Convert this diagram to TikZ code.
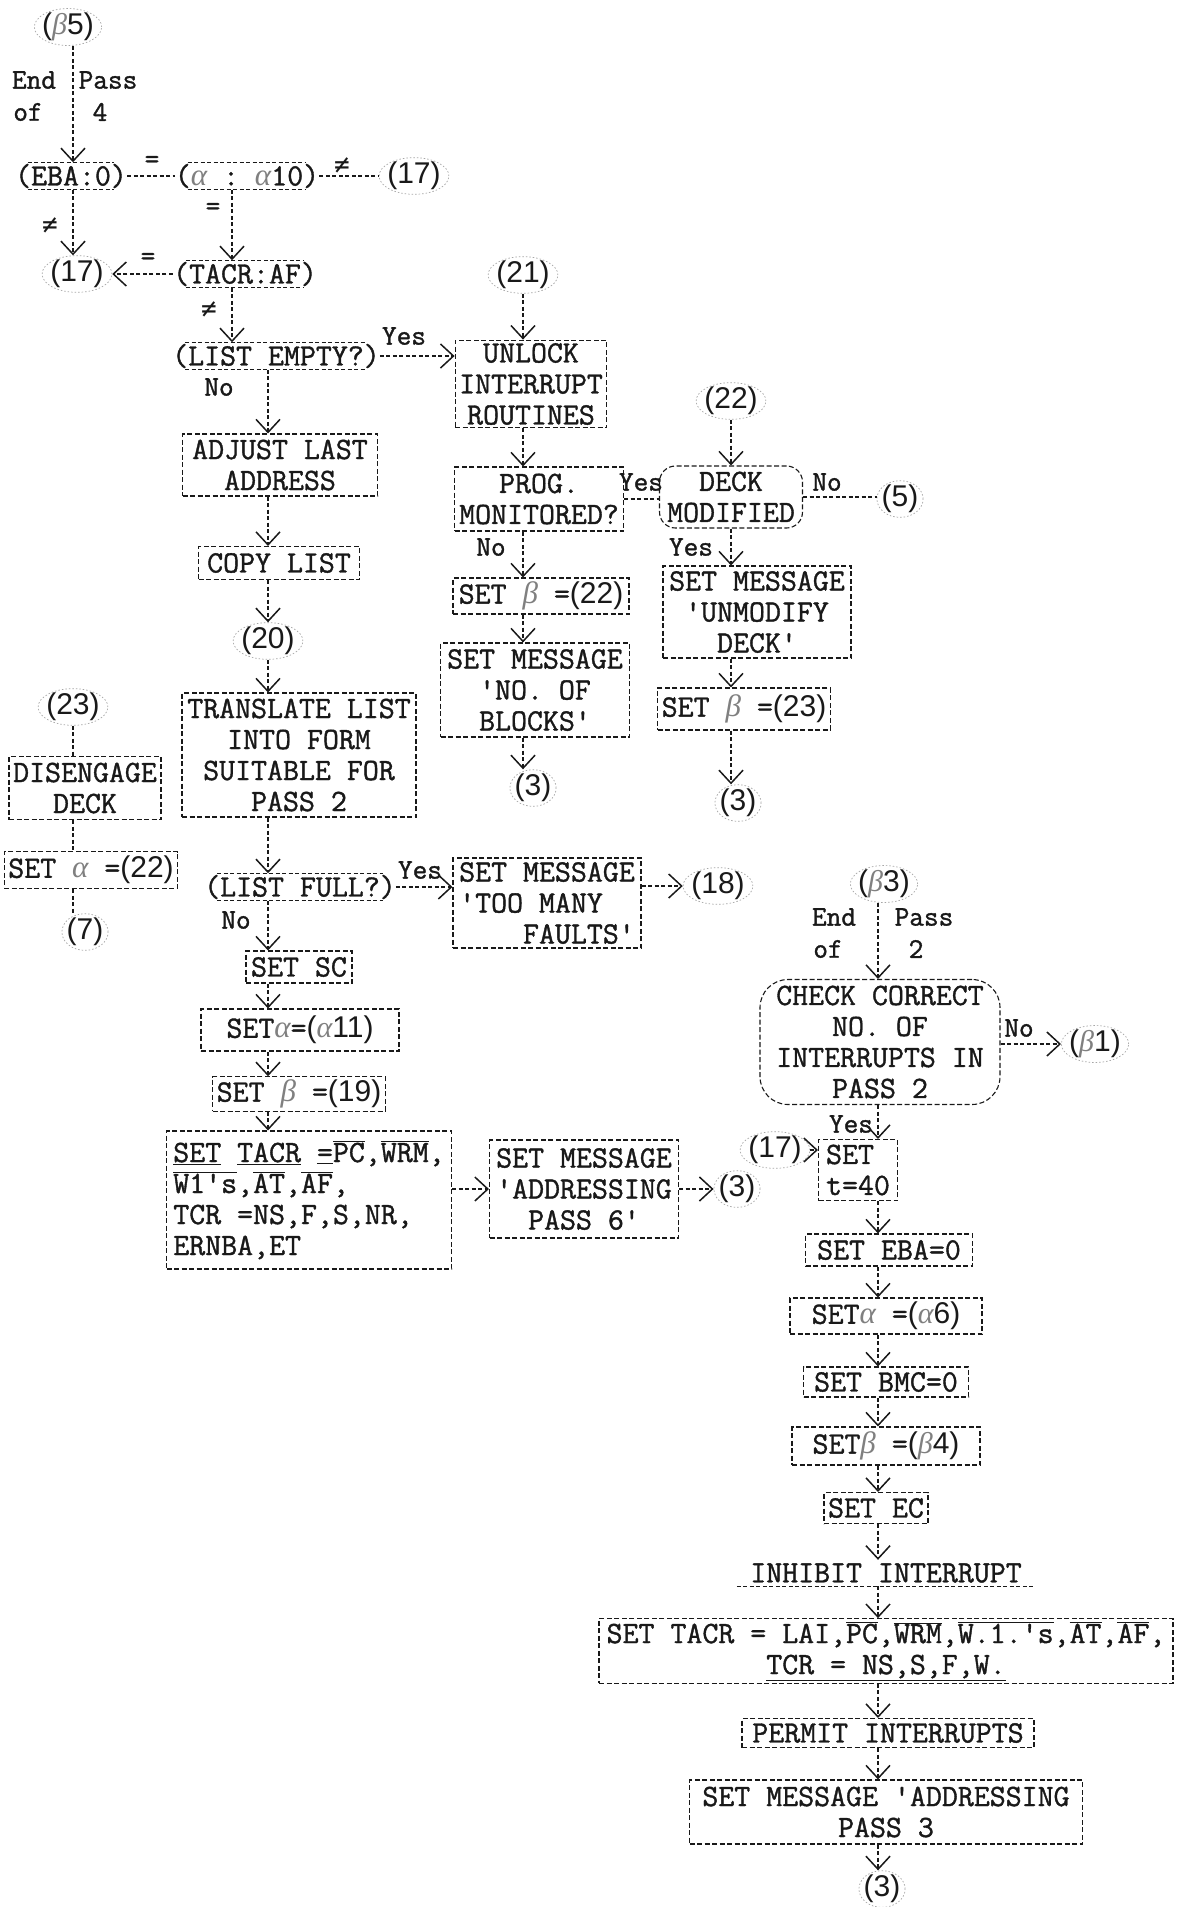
\documentclass[tikz,border=0pt]{standalone}
\usepackage{fontspec}
\setmainfont{Liberation Serif}
\newfontfamily\twf{Latin Modern Mono}[FakeBold=1.2]
\newfontfamily\numf{Liberation Sans}
\newfontfamily\handf{Liberation Serif}
\newfontfamily\symf{DejaVu Sans Mono}
\usetikzlibrary{arrows.meta,shapes.geometric}
\definecolor{ink}{gray}{0.1}
\newcommand\tw{\fontsize{31}{31}\selectfont\twf}
\newcommand\tws{\fontsize{28.5}{31}\selectfont\twf}
\newcommand\ga{{\color{black!50}\handf\itshape α}}
\newcommand\gb{{\color{black!50}\handf\itshape β}}
\newcommand\cnum[1]{{\numf\fontsize{30}{31}\selectfont(#1)}}
\newcommand\ovl[1]{\ensuremath{\overline{\mbox{#1}}}}
\begin{document}
\begin{tikzpicture}[x=1pt,y=-1pt,
  every node/.style={text=ink},
  conn/.style={draw=ink, line width=1.1pt, dash pattern=on 4pt off 2.5pt},
  arr/.style={conn, -{Straight Barb[length=13pt,width=24pt,line width=1.5pt]}},
  box/.style={draw=ink, line width=1.1pt, dash pattern=on 5pt off 2.5pt, font=\tw, align=center, inner xsep=4pt, inner ysep=3pt},
  rbox/.style={box, rounded corners=16pt},
  dec/.style={font=\tw, inner xsep=0pt, inner ysep=1.5pt},
  cn/.style={font={\numf\fontsize{30}{31}\selectfont}, ellipse, draw=black!35, line width=0.7pt, dash pattern=on 1.5pt off 2pt, inner xsep=-2pt, inner ysep=-1pt},
  lbl/.style={font=\tws, inner sep=0pt},
  sym/.style={font={\symf\fontsize{26}{30}\selectfont}, inner sep=0pt},
]
\fill[white] (0,0) rectangle (1186,1907);
\useasboundingbox (0,0) rectangle (1186,1907);
\coordinate (xA) at (73,0);
\coordinate (xB) at (232,0);
\coordinate (xC) at (268,0);
\coordinate (xD) at (523,0);
\coordinate (xE) at (731,0);
\coordinate (xF) at (878,0);

% ---------- top ----------
\node[cn] (b5) at (68,27) {(\gb5)};
\node[lbl] (endA) at (34,80) {End};
\node[lbl] (passA) at (108,80) {Pass};
\node[lbl] (ofA) at (28,112) {of};
\node[lbl] (fourA) at (100,112) {4};
\node[dec] (eba) at (71,176) {(EBA:0)};
\node[dec] (a10) at (247,176) {(\ga~:~\ga10)};
\node[cn] (c17a) at (414,176) {(17)};
\node[lbl] (eqA) at (152,162) {=};
\node[sym] (neA) at (342,166) {≠};
\node[sym] (neB) at (50,226) {≠};
\node[cn] (c17b) at (77,274) {(17)};
\node[lbl] (eqB) at (213,209) {=};
\node[dec] (tacr) at (245,274) {(TACR:AF)};
\node[lbl] (eqC) at (148,259) {=};
\node[sym] (neC) at (209,310) {≠};
\node[dec] (lempty) at (276,356) {(LIST EMPTY?)};
\node[lbl] (yesA) at (404,336) {Yes};
\node[lbl] (noA) at (219,387) {No};

% ---------- middle-left column ----------
\node[box, minimum width=195, minimum height=62] (adjust) at (280,465) {ADJUST LAST\\ADDRESS};
\node[box, minimum width=161, minimum height=33] (copy) at (279,563) {COPY LIST};
\node[cn] (c20) at (268,641) {(20)};
\node[box, minimum width=234, minimum height=124] (transl) at (299,755) {TRANSLATE LIST\\INTO FORM\\SUITABLE FOR\\PASS 2};

% ---------- unlock column ----------
\node[cn] (c21) at (523,275) {(21)};
\node[box, minimum width=150, minimum height=87] (unlock) at (531,384) {UNLOCK\\INTERRUPT\\ROUTINES};
\node[box, minimum width=169, minimum height=64] (prog) at (539,499) {PROG.\\MONITORED?};
\node[lbl] (yesB) at (641,482) {Yes};
\node[lbl] (noB) at (491,547) {No};
\node[box, minimum width=176, minimum height=36] (setb22) at (541,596) {SET \gb~=\cnum{22}};
\node[box, minimum width=189, minimum height=94] (msgblk) at (535,690) {SET MESSAGE\\'NO. OF\\BLOCKS'};
\node[cn] (c3a) at (533,788) {(3)};

% ---------- deck column ----------
\node[cn] (c22) at (731,401) {(22)};
\node[rbox, minimum width=143, minimum height=62] (deck) at (731,497) {DECK\\MODIFIED};
\node[lbl] (noC) at (827,482) {No};
\node[cn] (c5) at (900,499) {(5)};
\node[lbl] (yesC) at (691,547) {Yes};
\node[box, minimum width=188, minimum height=92] (unmod) at (757,612) {SET MESSAGE\\'UNMODIFY\\DECK'};
\node[box, minimum width=171, minimum height=42] (setb23) at (744,709) {SET \gb~=\cnum{23}};
\node[cn] (c3b) at (738,803) {(3)};

% ---------- far left ----------
\node[cn] (c23) at (73,707) {(23)};
\node[box, minimum width=152, minimum height=63] (diseng) at (85,788) {DISENGAGE\\DECK};
\node[box, minimum width=163, minimum height=37] (seta22) at (91,870) {SET \ga~=\cnum{22}};
\node[cn] (c7) at (85,932) {(7)};

% ---------- lower middle ----------
\node[dec] (lfull) at (300,887) {(LIST FULL?)};
\node[lbl] (yesD) at (420,870) {Yes};
\node[lbl] (noD) at (236,920) {No};
\node[box, align=left, minimum width=188, minimum height=90] (toomany) at (547,903) {SET MESSAGE\\'TOO MANY\\~~~~FAULTS'};
\node[cn] (c18) at (718,886) {(18)};
\node[box, minimum width=106, minimum height=32] (setsc) at (299,967) {SET SC};
\node[box, minimum width=198, minimum height=42] (seta11) at (300,1030) {SET\ga=\cnum{\ga11}};
\node[box, minimum width=162, minimum height=32] (setb19) at (299,1094) {SET \gb~=\cnum{19}};
\node[box, align=left, minimum width=285, minimum height=138] (settacr) at (309,1200)
  {\underline{SET}~\underline{TACR}~\underline{=}\ovl{PC},\ovl{WRM},\\\ovl{W1's},\ovl{AT},\ovl{AF},\\TCR~=NS,F,S,NR,\\ERNBA,ET};
\node[box, minimum width=189, minimum height=98] (addr6) at (584,1189) {SET MESSAGE\\'ADDRESSING\\PASS 6'};
\node[cn] (c3c) at (737,1189) {(3)};

% ---------- right column ----------
\node[cn] (b3) at (884,884) {(\gb3)};
\node[lbl] (endB) at (834,917) {End};
\node[lbl] (ofB) at (828,949) {of};
\node[lbl] (passB) at (924,917) {Pass};
\node[lbl] (twoB) at (916,949) {2};
\node[rbox, rounded corners=28pt, minimum width=240, minimum height=125] (check) at (880,1042) {CHECK CORRECT\\NO. OF\\INTERRUPTS IN\\PASS 2};
\node[lbl] (noE) at (1019,1028) {No};
\node[cn] (b1) at (1095,1044) {(\gb1)};
\node[lbl] (yesE) at (851,1124) {Yes};
\node[cn] (c17c) at (775,1150) {(17)};
\node[box, align=left, minimum width=79, minimum height=61] (sett40) at (858,1170) {SET\\t=40};
\node[box, minimum width=167, minimum height=32] (seteba) at (889,1250) {SET EBA=0};
\node[box, minimum width=192, minimum height=36] (seta6) at (886,1316) {SET\ga~=\cnum{\ga6}};
\node[box, minimum width=165, minimum height=30] (setbmc) at (886,1382) {SET BMC=0};
\node[box, minimum width=188, minimum height=38] (setb4) at (886,1446) {SET\gb~=\cnum{\gb4}};
\node[box, minimum width=104, minimum height=31] (setec) at (876,1508) {SET EC};
\node[font=\tw, minimum width=298, minimum height=26, inner sep=0pt] (inhibit) at (886,1573) {INHIBIT INTERRUPT};
\node[box, minimum width=574, minimum height=64] (settacr2) at (886,1651)
  {SET TACR = LAI,\ovl{PC},\ovl{WRM},\ovl{W.1.'s},\ovl{AT},\ovl{AF},\\\underline{TCR = NS,S,F,W.}};
\node[box, minimum width=292, minimum height=29] (permit) at (888,1733) {PERMIT INTERRUPTS};
\node[box, minimum width=393, minimum height=64] (addr3) at (886,1812) {SET MESSAGE 'ADDRESSING\\PASS 3};
\node[cn] (c3d) at (882,1889) {(3)};

% decision outlines (dashed top and bottom between the parentheses)
\foreach \n in {eba,a10,tacr,lempty,lfull}{
  \draw[conn] ([xshift=13pt]\n.north west) -- ([xshift=-13pt]\n.north east)
              ([xshift=13pt]\n.south west) -- ([xshift=-13pt]\n.south east);
}
\draw[conn] (inhibit.south west) -- (inhibit.south east);

% ---------- connectors ----------
\draw[arr] (b5.south -| xA) -- (eba.north -| xA);
\draw[conn] (eba.east) -- (a10.west);
\draw[conn] (a10.east) -- (c17a.west);
\draw[arr] (eba.south -| xA) -- (c17b.north -| xA);
\draw[arr] (a10.south -| xB) -- (tacr.north -| xB);
\draw[arr] (tacr.west) -- (c17b.east);
\draw[arr] (tacr.south -| xB) -- (lempty.north -| xB);
\draw[arr] (lempty.east) -- (lempty.east -| unlock.west);
\draw[arr] (lempty.south -| xC) -- (adjust.north -| xC);
\draw[arr] (adjust.south -| xC) -- (copy.north -| xC);
\draw[arr] (copy.south -| xC) -- (c20.north -| xC);
\draw[arr] (c20.south -| xC) -- (transl.north -| xC);

\draw[arr] (c21.south -| xD) -- (unlock.north -| xD);
\draw[arr] (unlock.south -| xD) -- (prog.north -| xD);
\draw[conn] (prog.east) -- (prog.east -| deck.west);
\draw[arr] (prog.south -| xD) -- (setb22.north -| xD);
\draw[arr] (setb22.south -| xD) -- (msgblk.north -| xD);
\draw[arr] (msgblk.south -| xD) -- (c3a.north -| xD);

\draw[arr] (c22.south -| xE) -- (deck.north -| xE);
\draw[conn] (deck.east) -- (deck.east -| c5.west);
\draw[arr] (deck.south -| xE) -- (unmod.north -| xE);
\draw[arr] (unmod.south -| xE) -- (setb23.north -| xE);
\draw[arr] (setb23.south -| xE) -- (c3b.north -| xE);

\draw[conn] (c23.south -| xA) -- (diseng.north -| xA);
\draw[conn] (diseng.south -| xA) -- (seta22.north -| xA);
\draw[conn] (seta22.south -| xA) -- (c7.north -| xA);

\draw[arr] (transl.south -| xC) -- (lfull.north -| xC);
\draw[arr] (lfull.east) -- (lfull.east -| toomany.west);
\draw[arr] (toomany.east |- c18.west) -- (c18.west);
\draw[arr] (lfull.south -| xC) -- (setsc.north -| xC);
\draw[arr] (setsc.south -| xC) -- (seta11.north -| xC);
\draw[arr] (seta11.south -| xC) -- (setb19.north -| xC);
\draw[arr] (setb19.south -| xC) -- (settacr.north -| xC);
\draw[arr] (settacr.east |- addr6.west) -- (addr6.west);
\draw[arr] (addr6.east) -- (c3c.west);

\draw[arr] (b3.south -| xF) -- (check.north -| xF);
\draw[arr] (check.east |- b1.west) -- (b1.west);
\draw[arr] (check.south -| xF) -- (sett40.north -| xF);
\draw[arr] (c17c.east) -- (c17c.east -| sett40.west);
\draw[arr] (sett40.south -| xF) -- (seteba.north -| xF);
\draw[arr] (seteba.south -| xF) -- (seta6.north -| xF);
\draw[arr] (seta6.south -| xF) -- (setbmc.north -| xF);
\draw[arr] (setbmc.south -| xF) -- (setb4.north -| xF);
\draw[arr] (setb4.south -| xF) -- (setec.north -| xF);
\draw[arr] (setec.south -| xF) -- (inhibit.north -| xF);
\draw[arr] (inhibit.south -| xF) -- (settacr2.north -| xF);
\draw[arr] (settacr2.south -| xF) -- (permit.north -| xF);
\draw[arr] (permit.south -| xF) -- (addr3.north -| xF);
\draw[arr] (addr3.south -| xF) -- (c3d.north -| xF);
\end{tikzpicture}
\end{document}
